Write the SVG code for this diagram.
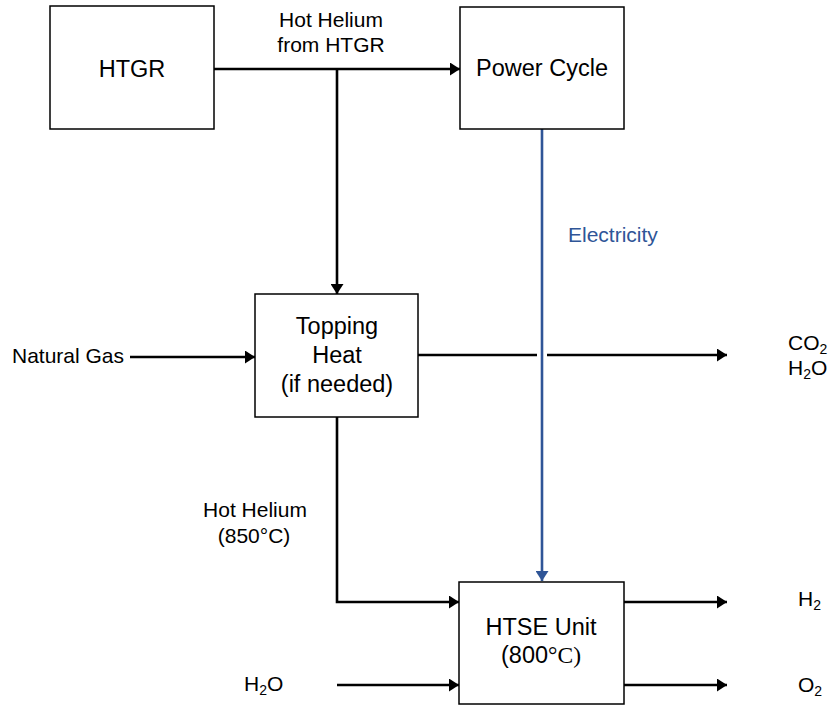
<svg xmlns="http://www.w3.org/2000/svg" width="833" height="708" viewBox="0 0 833 708">
<style>
.box{fill:#fff;stroke:#000;stroke-width:1.5}
.ln{fill:none;stroke:#000;stroke-width:2.6}
.el{fill:none;stroke:#2F5597;stroke-width:2.6}
.nt{font-family:"Liberation Sans",Arial,sans-serif;font-size:23.5px;fill:#000;text-anchor:middle}
.lb{font-family:"Liberation Sans",Arial,sans-serif;font-size:21px;fill:#000}
.sub{font-size:14px}
</style>
<defs>
<marker id="ah" viewBox="0 0 10 10" refX="10" refY="5" markerWidth="10" markerHeight="13" markerUnits="userSpaceOnUse" orient="auto" preserveAspectRatio="none"><path d="M0,0L10,5L0,10z" fill="#000"/></marker>
<marker id="ahb" viewBox="0 0 10 10" refX="10" refY="5" markerWidth="10" markerHeight="13" markerUnits="userSpaceOnUse" orient="auto" preserveAspectRatio="none"><path d="M0,0L10,5L0,10z" fill="#2F5597"/></marker>
</defs>
<rect width="833" height="708" fill="#fff"/>
<g id="connectors">
<path class="ln" d="M214,69H460" marker-end="url(#ah)"/>
<path class="ln" d="M337,69V294" marker-end="url(#ah)"/>
<path class="ln" d="M130,357H255" marker-end="url(#ah)"/>
<path class="ln" d="M418,355H537"/>
<path class="ln" d="M547,355H727" marker-end="url(#ah)"/>
<path class="el" d="M542,129V581" marker-end="url(#ahb)"/>
<path class="ln" d="M337,417V602H459" marker-end="url(#ah)"/>
<path class="ln" d="M337,685H459" marker-end="url(#ah)"/>
<path class="ln" d="M624,602H727" marker-end="url(#ah)"/>
<path class="ln" d="M624,685H727" marker-end="url(#ah)"/>
</g>
<g id="htgr"><rect class="box" x="50" y="6" width="164" height="123"/><text class="nt" x="132" y="77">HTGR</text></g>
<g id="power-cycle"><rect class="box" x="460" y="7" width="164" height="122"/><text class="nt" x="542" y="76">Power Cycle</text></g>
<g id="topping-heat"><rect class="box" x="255" y="294" width="163" height="123"/><text class="nt" x="337" y="334">Topping</text><text class="nt" x="337" y="363">Heat</text><text class="nt" x="337" y="392">(if needed)</text></g>
<g id="htse"><rect class="box" x="459" y="582" width="165" height="122"/><text class="nt" x="541" y="635">HTSE Unit</text><text class="nt" x="541" y="663">(800<tspan font-family="'Liberation Serif','Times New Roman',serif">°C)</tspan></text></g>
<g id="labels">
<text class="lb" x="331" y="27" text-anchor="middle">Hot Helium</text>
<text class="lb" x="331" y="52" text-anchor="middle">from HTGR</text>
<text class="lb" x="568" y="242" style="fill:#2F5597">Electricity</text>
<text class="lb" x="12" y="363">Natural Gas</text>
<text class="lb" x="788" y="350">CO<tspan class="sub" dy="4">2</tspan></text>
<text class="lb" x="788" y="375">H<tspan class="sub" dy="4">2</tspan><tspan dy="-4">O</tspan></text>
<text class="lb" x="255" y="517" text-anchor="middle">Hot Helium</text>
<text class="lb" x="254" y="543" text-anchor="middle">(850°C)</text>
<text class="lb" x="244" y="691">H<tspan class="sub" dy="4">2</tspan><tspan dy="-4">O</tspan></text>
<text class="lb" x="798" y="606">H<tspan class="sub" dy="4">2</tspan></text>
<text class="lb" x="798" y="692">O<tspan class="sub" dy="4">2</tspan></text>
</g>
</svg>
